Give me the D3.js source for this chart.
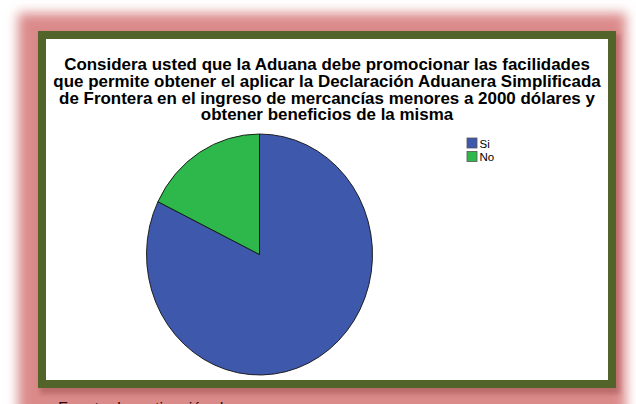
<!DOCTYPE html>
<html><head><meta charset="utf-8">
<script src="https://cdn.jsdelivr.net/npm/d3@7"></script>
<style>html,body{margin:0;padding:0;background:#fff;}svg{display:block;}</style>
</head><body>
<svg id="chart" width="636" height="404"></svg>
<script>
const categories = ["Si", "No"];
const values = [37, 8];
const colors = ["#3e58ac", "#2eb84c"];
const titleLines = [
  "Considera usted que la Aduana debe promocionar las facilidades",
  "que permite obtener el aplicar la Declaración Aduanera Simplificada",
  "de Frontera en el ingreso de mercancías menores a 2000 dólares y",
  "obtener beneficios de la misma"
];
const footnote = "Fuente: Investigación de campo";

const svg = d3.select("#chart");
const defs = svg.append("defs");
defs.append("filter").attr("id","glow").attr("x","-20%").attr("y","-20%").attr("width","140%").attr("height","140%")
  .append("feGaussianBlur").attr("stdDeviation", 6);
defs.append("filter").attr("id","shadow").attr("x","-20%").attr("y","-20%").attr("width","140%").attr("height","140%")
  .append("feGaussianBlur").attr("stdDeviation", 2.5);

// glow
svg.append("rect").attr("x",18).attr("y",13).attr("width",608).attr("height",405)
  .attr("fill","#db8a8a").attr("filter","url(#glow)");
// shadow
svg.append("rect").attr("x",40).attr("y",34).attr("width",580).attr("height",360)
  .attr("fill","#b05e5e").attr("opacity",0.7).attr("filter","url(#shadow)");
// frame
svg.append("rect").attr("x",38).attr("y",31).attr("width",578).attr("height",357).attr("fill","#526429");
svg.append("rect").attr("x",46).attr("y",39).attr("width",562).attr("height",341).attr("fill","#ffffff");

// title
const tg = svg.append("g").attr("transform","translate(327,0) scale(1.06,1)");
const title = tg.append("text").attr("text-anchor","middle")
  .attr("font-family","'Liberation Sans', Arial, sans-serif").attr("font-weight","bold")
  .attr("font-size",16).attr("fill","#000");
titleLines.forEach((t,i)=>{
  title.append("tspan").attr("x",0).attr("y",70.5 + i*16.6).text(t);
});

// pie
const cx = 259.5, cy = 254.5, rx = 113, ry = 120.5;
const pie = d3.pie().sort(null).value(d=>d.v);
const arc = d3.arc().innerRadius(0).outerRadius(rx);
const data = categories.map((c,i)=>({c, v: values[i], col: colors[i]}));
const g = svg.append("g").attr("transform",`translate(${cx},${cy}) scale(1,${ry/rx})`);
g.selectAll("path").data(pie(data)).join("path")
  .attr("d", arc).attr("fill", d=>d.data.col)
  .attr("stroke","#111").attr("stroke-width",0.9).attr("vector-effect","non-scaling-stroke");

// legend
const leg = svg.append("g").attr("transform","translate(467,138)");
const li = leg.selectAll("g").data(data).join("g").attr("transform",(d,i)=>`translate(0,${i*13.5})`);
li.append("rect").attr("width",10).attr("height",10).attr("fill",d=>d.col)
  .attr("stroke","#555").attr("stroke-width",0.8);
li.append("text").attr("x",12.5).attr("y",9.8).attr("font-family","'Liberation Sans', Arial, sans-serif")
  .attr("font-size",11.5).attr("fill","#000").text(d=>d.c);

// footnote (cut off at the bottom edge, as in the reference)
svg.append("text").attr("x",58).attr("y",414).attr("font-family","'Liberation Sans', Arial, sans-serif")
  .attr("font-size",16).attr("fill","#2a0c0c").text(footnote);
</script>
</body></html>
